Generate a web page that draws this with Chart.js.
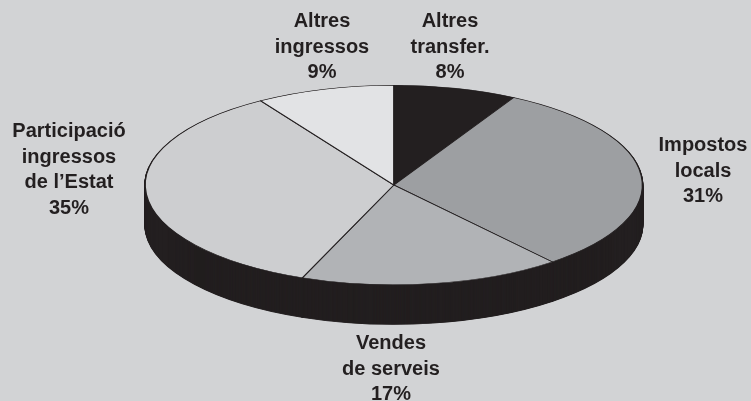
<!DOCTYPE html>
<html><head><meta charset="utf-8">
<style>html,body{margin:0;padding:0;background:#d2d3d5;overflow:hidden}#w{position:absolute;left:0;top:0;width:751px;height:401px}</style>
<script src="https://cdn.jsdelivr.net/npm/chart.js@4"></script>
</head><body><div id="w"><canvas id="c" width="751" height="401"></canvas></div>
<script>
const categories = ["Altres transfer.", "Impostos locals", "Vendes de serveis", "Participació ingressos de l’Estat", "Altres ingressos"];
const values = [8, 31, 17, 35, 9];
const sliceColors = ["#231f20", "#9d9fa2", "#b1b3b6", "#cdced0", "#e2e3e5"];
const labelLines = [["Altres","transfer.","8%"],["Impostos","locals","31%"],["Vendes","de serveis","17%"],["Participació","ingressos","de l’Estat","35%"],["Altres","ingressos","9%"]];

// layout of the tilted disc
const DISC = {cx:393.8, cy:185, rx:248.6, ry:99.8, depth:39.5, side:"#231f20"};
const LABEL_POS = [[450,27],[703,151],[391,349],[69,137],[322,27]];
const LINE_H = 25.7;

function tilt(chart){
  const el = chart.getDatasetMeta(0).data[0];
  const r = el.outerRadius;
  const ctx = chart.ctx;
  ctx.translate(DISC.cx, DISC.cy);
  ctx.scale(DISC.rx/r, DISC.ry/r);
  ctx.translate(-el.x, -el.y);
}
const disc3d = {
  id:"disc3d",
  beforeDatasetsDraw(chart){
    const ctx = chart.ctx, meta = chart.getDatasetMeta(0);
    // extruded side: the library's own arcs redrawn, stepping down
    for(let d=DISC.depth; d>=0.5; d-=0.5){
      ctx.save();
      ctx.translate(0,d);
      tilt(chart);
      meta.data.forEach(a=>{
        const o=a.options;
        a.options=Object.assign({},o,{backgroundColor:DISC.side,borderColor:DISC.side,borderWidth:1.6});
        a.draw(ctx);
        a.options=o;
      });
      ctx.restore();
    }
    ctx.save();
    tilt(chart);
  },
  afterDatasetsDraw(chart){
    chart.ctx.restore();
    const ctx=chart.ctx;
    ctx.save();
    ctx.font='bold 20px "Liberation Sans"';
    ctx.fillStyle="#231f20";
    ctx.textAlign="center";
    ctx.textBaseline="alphabetic";
    labelLines.forEach((lines,i)=>{
      lines.forEach((t,j)=>{
        ctx.fillText(t,LABEL_POS[i][0],LABEL_POS[i][1]+j*LINE_H);
      });
    });
    ctx.restore();
  }
};
new Chart(document.getElementById("c"),{
  type:"pie",
  data:{labels:categories,datasets:[{data:values,backgroundColor:sliceColors,borderColor:"#231f20",borderWidth:1.1,borderJoinStyle:"round",hoverOffset:0}]},
  options:{responsive:false,animation:false,layout:{padding:0},events:[],
    plugins:{legend:{display:false},tooltip:{enabled:false}}},
  plugins:[disc3d]
});
</script></body></html>
